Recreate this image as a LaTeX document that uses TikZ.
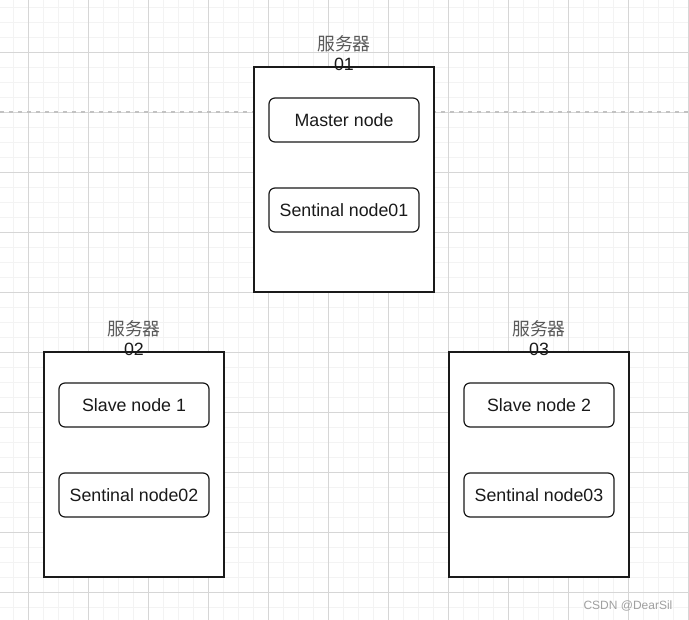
\documentclass[tikz,border=0pt]{standalone}
\usepackage{fontspec}
\setmainfont{Liberation Sans}
\newfontfamily\cjk{Noto Sans CJK SC}
\usetikzlibrary{positioning}
\definecolor{gridmajor}{HTML}{D6D6D6}
\definecolor{gridminor}{HTML}{F3F3F3}
\definecolor{guide}{HTML}{C2C2C2}
\definecolor{ink}{HTML}{1A1A1A}
\definecolor{cjkgray}{HTML}{5A5A5A}
\definecolor{mark}{HTML}{A0A0A0}
\tikzset{
  server/.style={draw=ink, fill=white, line width=1.4pt, minimum width=180pt, minimum height=225pt, inner sep=0pt},
  proc/.style={draw=ink, fill=white, rounded corners=6pt, line width=1.2pt, minimum width=150pt, minimum height=44pt, inner sep=0pt, font=\fontsize{17.8}{20}\selectfont, text=ink},
  tag/.style={align=center, inner sep=0pt, font=\fontsize{17.8}{20}\selectfont, text=ink},
  wmark/.style={text=mark, font=\fontsize{12}{14}\selectfont}
}
\newcommand{\ServerTag}[1]{{\cjk\color{cjkgray}服务器}\\#1}

\begin{document}
\begin{tikzpicture}[x=1pt,y=-1pt]
  \useasboundingbox[fill=white] (0,0) rectangle (689,620);

  % background grid
  \foreach \gx in {13,28,...,688} \draw[gridminor, line width=0.8pt] (\gx,0) -- (\gx,620);
  \foreach \gy in {7,22,...,619} \draw[gridminor, line width=0.8pt] (0,\gy) -- (689,\gy);
  \foreach \gx in {28,88,...,688} \draw[gridmajor, line width=0.8pt] (\gx,0) -- (\gx,620);
  \foreach \gy in {52,112,...,619} \draw[gridmajor, line width=0.8pt] (0,\gy) -- (689,\gy);
  \draw[guide, line width=1.4pt, dash pattern=on 4pt off 5pt] (0,112) -- (689,112);

  % servers
  \node[server] (srv1) at (344,179.5) {};
  \node[server] (srv2) at (134,464.5) {};
  \node[server] (srv3) at (539,464.5) {};

  \node[tag] (tag1) at (344,53) {\ServerTag{01}};
  \node[tag] (tag2) at (134,338) {\ServerTag{02}};
  \node[tag] (tag3) at (539,338) {\ServerTag{03}};

  % processes
  \node[proc] (master) at (344,120) {Master node};
  \node[proc] (sent1) at (344,210) {Sentinal node01};
  \node[proc] (slave1) at (134,405) {Slave node 1};
  \node[proc] (sent2) at (134,495) {Sentinal node02};
  \node[proc] (slave2) at (539,405) {Slave node 2};
  \node[proc] (sent3) at (539,495) {Sentinal node03};

  \node[wmark] (wm) at (628,606) {CSDN @DearSil};
\end{tikzpicture}
\end{document}
